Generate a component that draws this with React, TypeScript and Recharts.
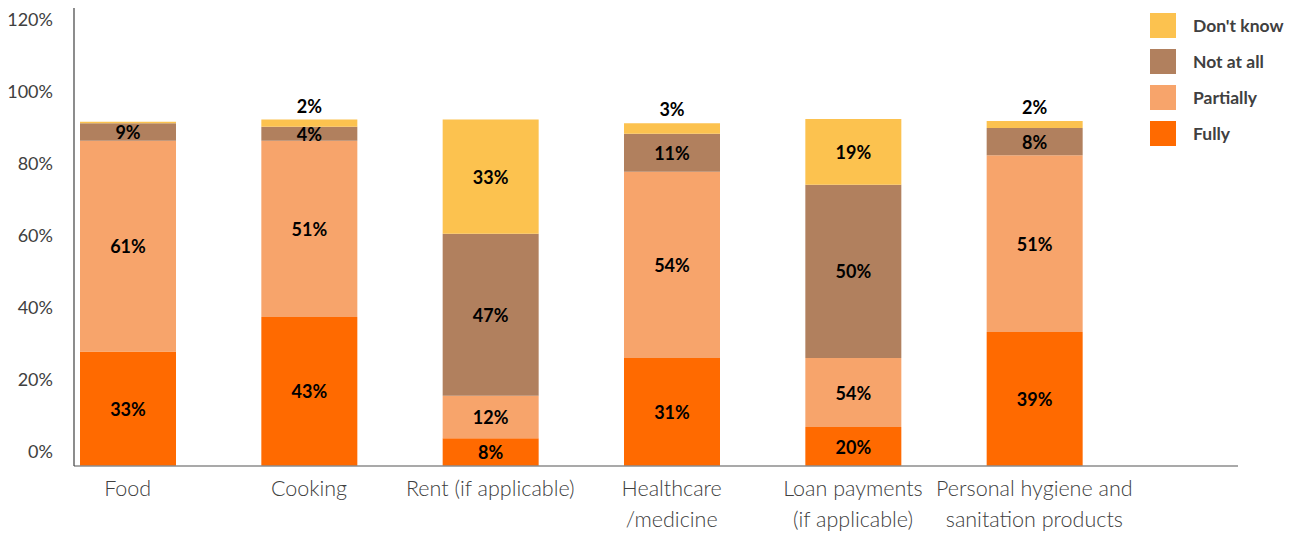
import React from 'react';
import { BarChart, Bar, XAxis, YAxis, Legend, LabelList } from 'recharts';

// bar heights as drawn (percent of the axis)
const categories = [
  'Food',
  'Cooking',
  'Rent (if applicable)',
  'Healthcare\n/medicine',
  'Loan payments\n(if applicable)',
  'Personal hygiene and\nsanitation products',
];
const fully = [31.8, 41.4, 7.7, 30.0, 10.8, 37.2];
const partially = [58.5, 48.9, 11.8, 51.7, 19.2, 49.1];
const notAtAll = [4.9, 3.9, 45.0, 10.6, 48.1, 7.6];
const dontKnow = [0.4, 2.0, 31.7, 2.9, 18.3, 1.9];

// the printed labels (they don't match the drawn heights in the source)
const fullyLabels = ['33%', '43%', '8%', '31%', '20%', '39%'];
const partiallyLabels = ['61%', '51%', '12%', '54%', '54%', '51%'];
const notAtAllLabels = ['9%', '4%', '47%', '11%', '50%', '8%'];
const dontKnowLabels = ['', '2%', '33%', '3%', '19%', '2%'];

const yTicks = [0, 20, 40, 60, 80, 100, 120];

const series = [
  { key: 'fully', name: 'Fully', color: '#FF6A00', labels: fullyLabels },
  { key: 'partially', name: 'Partially', color: '#F7A46B', labels: partiallyLabels },
  { key: 'notAtAll', name: 'Not at all', color: '#B1805E', labels: notAtAllLabels },
  { key: 'dontKnow', name: "Don't know", color: '#FCC24F', labels: dontKnowLabels },
];

const data = categories.map((name, i) => ({
  name,
  fully: fully[i],
  partially: partially[i],
  notAtAll: notAtAll[i],
  dontKnow: dontKnow[i],
}));

const FONT = 'Lato, "DejaVu Sans", sans-serif';

const makeLabel = (labels: string[]) => (props: any) => {
  const { x, y, width, height, index } = props;
  const text = labels[index];
  if (!text) return null;
  const cx = Number(x) + Number(width) / 2;
  // thin segments get their label above the bar
  const cy = Number(height) < 12 ? Number(y) - 14 : Number(y) + Number(height) / 2;
  return (
    <text x={cx} y={cy} textAnchor="middle" dominantBaseline="central"
      fontFamily={FONT} fontWeight={700} fontSize={18} fill="#000">
      {text}
    </text>
  );
};

const YTick = (props: any) => {
  const { x, y, payload } = props;
  return (
    <text x={x} y={y - 15} textAnchor="end" dominantBaseline="central"
      fontFamily={FONT} fontSize={18} fill="#404040">
      {payload.value}%
    </text>
  );
};

const XTick = (props: any) => {
  const { x, y, payload } = props;
  const lines = String(payload.value).split('\n');
  return (
    <text x={x} y={y} textAnchor="middle" fontFamily={FONT} fontWeight={300}
      fontSize={21.5} fill="#404040">
      {lines.map((l, i) => (
        <tspan key={i} x={x} y={y + 30 + i * 31}>{l}</tspan>
      ))}
    </text>
  );
};

const LegendBox = () => (
  <div style={{ display: 'flex', flexDirection: 'column', gap: 11 }}>
    {[...series].reverse().map(s => (
      <div key={s.key} style={{ display: 'flex', alignItems: 'center', height: 25 }}>
        <div style={{ width: 26, height: 25, background: s.color, marginRight: 17 }} />
        <span style={{ fontFamily: FONT, fontWeight: 700, fontSize: 17.5, color: '#404040' }}>
          {s.name}
        </span>
      </div>
    ))}
  </div>
);

export default function App() {
  return (
    <div>
      <style>{'body{overflow:hidden}'}</style>
      <BarChart width={1283} height={527} data={data}
        margin={{ top: 0, right: 53, bottom: 0, left: 0 }} barSize={96}>
        <XAxis dataKey="name" height={69} interval={0} tick={<XTick />}
          tickLine={false} tickSize={0} tickMargin={0}
          axisLine={{ stroke: '#8c8c8c', strokeWidth: 1.5 }}
          padding={{ left: -37, right: 113 }} />
        <YAxis width={66} domain={[0, 127.2]} ticks={yTicks} tick={<YTick />}
          tickLine={false} tickSize={0} tickMargin={21}
          axisLine={{ stroke: '#404040', strokeWidth: 1.2 }} />
        <Legend layout="vertical" align="center" verticalAlign="middle"
          content={<LegendBox />}
          wrapperStyle={{ position: 'absolute', left: 1142, top: 5, width: 150 }} />
        {series.map(s => (
          <Bar key={s.key} dataKey={s.key} name={s.name} stackId="a" fill={s.color}
            isAnimationActive={false}>
            <LabelList dataKey={s.key} content={makeLabel(s.labels)} />
          </Bar>
        ))}
      </BarChart>
    </div>
  );
}
